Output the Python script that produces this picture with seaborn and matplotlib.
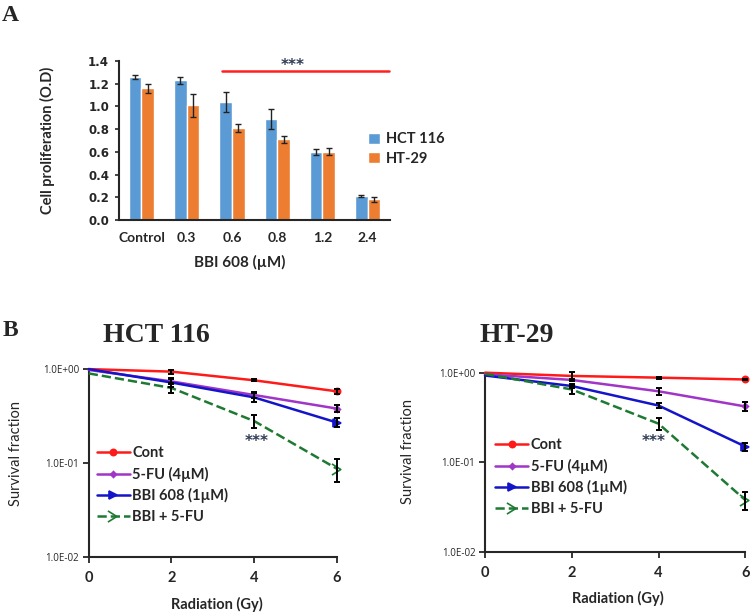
import numpy as np
import pandas as pd
import seaborn as sns
import matplotlib
matplotlib.use('Agg')
import matplotlib.pyplot as plt
from matplotlib.lines import Line2D
from matplotlib.path import Path
from matplotlib.legend_handler import HandlerLine2D
from matplotlib.ticker import FuncFormatter, NullLocator

# Panel A data (cell proliferation, O.D)
doses = ['Control', '0.3', '0.6', '0.8', '1.2', '2.4']
hct_od = [1.26, 1.23, 1.04, 0.89, 0.60, 0.21]
hct_od_err = [0.015, 0.03, 0.085, 0.09, 0.025, 0.01]
ht_od = [1.16, 1.01, 0.81, 0.71, 0.60, 0.18]
ht_od_err = [0.04, 0.10, 0.035, 0.03, 0.03, 0.025]

# Panel B data (survival fraction)
gy = [0, 2, 4, 6]
treatments = ['Cont', '5-FU (4µM)', 'BBI 608 (1µM)', 'BBI + 5-FU']
hct_cont = [1.0, 0.94, 0.76, 0.58]
hct_cont_err = [0.0, 0.05, 0.02, 0.04]
hct_fu = [0.98, 0.74, 0.53, 0.38]
hct_fu_err = [0.0, 0.05, 0.04, 0.03]
hct_bbi = [1.0, 0.72, 0.50, 0.27]
hct_bbi_err = [0.0, 0.08, 0.05, 0.03]
hct_combo = [0.90, 0.63, 0.28, 0.087]
hct_combo_err = [0.0, 0.08, 0.045, 0.024]

ht_cont = [1.0, 0.92, 0.88, 0.84]
ht_cont_err = [0.0, 0.09, 0.02, 0.02]
ht_fu = [0.96, 0.83, 0.62, 0.42]
ht_fu_err = [0.0, 0.03, 0.055, 0.05]
ht_bbi = [0.93, 0.71, 0.43, 0.15]
ht_bbi_err = [0.0, 0.04, 0.03, 0.015]
ht_combo = [0.97, 0.65, 0.27, 0.038]
ht_combo_err = [0.0, 0.065, 0.04, 0.009]

sns.set_style('ticks')
plt.rcParams['font.family'] = ['Lato', 'DejaVu Sans']
plt.rcParams['axes.linewidth'] = 1.5

fig = plt.figure(figsize=(7.52, 6.16), dpi=100)

# ---------------- Panel A ----------------
ax_a = fig.add_axes([0.158, 0.643, 0.361, 0.258])
df_a = pd.DataFrame({
    'dose': doses * 2,
    'od': hct_od + ht_od,
    'line': ['HCT 116'] * 6 + ['HT-29'] * 6,
})
sns.barplot(data=df_a, x='dose', y='od', hue='line', palette=['#5B9BD5', '#ED7D31'],
            width=0.56, errorbar=None, saturation=1, ax=ax_a)
for cont, vals, errs in zip(ax_a.containers, [hct_od, ht_od], [hct_od_err, ht_od_err]):
    xs = [p.get_x() + p.get_width() / 2 for p in cont]
    ax_a.errorbar(xs, vals, yerr=errs, fmt='none', ecolor='#222222',
                  elinewidth=1, capsize=2, capthick=1)

ax_a.set_xlim(-0.5, 5.5)
ax_a.set_ylim(0, 1.4)
ax_a.set_yticks(np.arange(0, 1.41, 0.2))
ax_a.yaxis.set_major_formatter(FuncFormatter(lambda v, p: f'{v:.1f}'))
sns.despine(ax=ax_a)
ax_a.tick_params(axis='x', length=0, pad=9, labelsize=10)
ax_a.tick_params(axis='y', length=3, width=1.2, pad=4)
for lab in ax_a.get_xticklabels():
    lab.set_fontweight('bold')
for lab in ax_a.get_yticklabels():
    lab.set_fontweight('bold')
    lab.set_family('DejaVu Sans')
    lab.set_fontsize(8.5)
ax_a.set_ylabel('Cell proliferation (O.D)', fontsize=10.5, fontweight='bold')
ax_a.set_xlabel('BBI 608 (µM)', fontsize=11, fontweight='bold')
ax_a.yaxis.set_label_coords(-0.235, 0.5)
ax_a.xaxis.set_label_coords(0.446, -0.22)

ax_a.plot([1.79, 5.48], [1.31, 1.31], color='#FF2020', lw=1.8, clip_on=False)
ax_a.text(3.35, 1.36, '***', ha='center', va='center', fontsize=11,
          fontweight='bold', family='DejaVu Sans', color='#2F3B55')
ax_a.legend(loc='center left', bbox_to_anchor=(355 / 752, 1 - 149 / 616),
            bbox_transform=fig.transFigure, frameon=False,
            prop={'weight': 'bold', 'size': 10.5}, handlelength=0.8,
            handleheight=0.8, handletextpad=0.4, labelspacing=0.35)

fig.text(0.003, 0.975, 'A', fontsize=17, fontweight='bold',
         family='Liberation Serif', va='center', ha='left')
fig.text(0.003, 0.463, 'B', fontsize=17, fontweight='bold',
         family='Liberation Serif', va='center', ha='left')


# ---------------- Panel B ----------------
class EndMarker(HandlerLine2D):
    def get_xdata(self, legend, xdescent, ydescent, width, height, fontsize):
        xdata = np.array([-xdescent, -xdescent + width])
        return xdata, np.array([-xdescent + width])


chevron = Path([(-1, 1), (0.6, 0), (-1, -1)], [Path.MOVETO, Path.LINETO, Path.LINETO])
styles = [
    dict(color='#FF1A1A', linestyle='-', marker='o', ms=4.5, mfc=None),
    dict(color='#A035C8', linestyle='-', marker='D', ms=3, mfc=None),
    dict(color='#1414C8', linestyle='-', marker='>', ms=6, mfc=None),
    dict(color='#1E7A32', linestyle='--', marker=chevron, ms=8, mfc='none'),
]


def survival_panel(rect, series, errs, title, title_x, leg_anchor, star_xy, xlab_xy, ylab_xy):
    ax = fig.add_axes(rect)
    for name, vals, st in zip(treatments, series, styles):
        extra = {} if st['mfc'] is None else {'markerfacecolor': st['mfc']}
        sns.lineplot(x=gy, y=vals, ax=ax, color=st['color'], linestyle=st['linestyle'],
                     marker=st['marker'], markersize=st['ms'], markevery=[-1],
                     markeredgewidth=1.2, markeredgecolor=st['color'], lw=1.8,
                     label=name, clip_on=False, zorder=4, **extra)
    for vals, err in zip(series, errs):
        ax.errorbar(gy[1:], vals[1:], yerr=err[1:], fmt='none', ecolor='black',
                    elinewidth=1.4, capsize=2.5, capthick=1.4, clip_on=False, zorder=5)
    ax.set_yscale('log')
    ax.set_ylim(0.01, 1.0)
    ax.set_xlim(0, 6)
    ax.set_xticks(gy)
    ax.yaxis.set_minor_locator(NullLocator())
    ax.yaxis.set_major_formatter(FuncFormatter(lambda v, p: f'{v:.1E}'))
    sns.despine(ax=ax)
    ax.tick_params(axis='y', length=4, width=1.3, pad=3)
    ax.tick_params(axis='x', length=4, width=1.3, labelsize=10.5, pad=6)
    for lab in ax.get_yticklabels():
        lab.set_family('Open Sans')
        lab.set_fontsize(7)
    for lab in ax.get_xticklabels():
        lab.set_fontweight('bold')
    ax.set_xlabel('Radiation (Gy)', fontsize=10.5, fontweight='bold')
    ax.set_ylabel('Survival fraction', fontsize=10.5)
    ax.xaxis.set_label_coords(*xlab_xy)
    ax.yaxis.set_label_coords(*ylab_xy)
    ax.text(star_xy[0], star_xy[1], '***', ha='center', va='center', fontsize=11,
            fontweight='bold', family='DejaVu Sans', color='#2F3B55')
    ax.legend(handler_map={Line2D: EndMarker()}, loc='upper left',
              bbox_to_anchor=leg_anchor, frameon=False, borderpad=0, borderaxespad=0,
              prop={'weight': 'bold', 'size': 10.5}, handlelength=2.3,
              handletextpad=0.15, labelspacing=0.45)
    fig.text(title_x, 0.456, title, fontsize=20, fontweight='bold',
             family='Liberation Serif', ha='center', va='center')
    return ax


survival_panel([0.118, 0.0958, 0.330, 0.305],
               [hct_cont, hct_fu, hct_bbi, hct_combo],
               [hct_cont_err, hct_fu_err, hct_bbi_err, hct_combo_err],
               'HCT 116', 156 / 752, (0.032, 0.59), (4.06, 0.17),
               (0.516, -0.215), (-0.265, 0.55))
survival_panel([0.645, 0.104, 0.346, 0.291],
               [ht_cont, ht_fu, ht_bbi, ht_combo],
               [ht_cont_err, ht_fu_err, ht_bbi_err, ht_combo_err],
               'HT-29', 517 / 752, (0.038, 0.635), (3.88, 0.17),
               (0.51, -0.215), (-0.27, 0.56))

fig.savefig('out.png', dpi=100)
